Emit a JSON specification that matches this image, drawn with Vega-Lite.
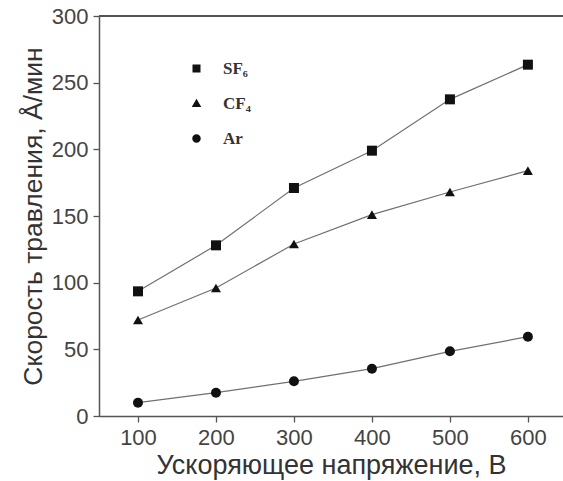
{
  "$schema": "https://vega.github.io/schema/vega-lite/v6.json",
  "width": 464,
  "height": 400,
  "autosize": {"type": "none"},
  "padding": {"left": 99, "top": 16, "right": 0, "bottom": 65},
  "background": "white",
  "config": {
    "view": {"stroke": null, "fill": null},
    "axis": {
      "grid": false,
      "domain": true,
      "ticks": true,
      "domainColor": "#555555",
      "domainWidth": 1.5,
      "tickColor": "#555555",
      "tickWidth": 1.3,
      "labelFont": "Liberation Sans",
      "labelFontSize": 22,
      "labelColor": "#444444",
      "titleFont": "Liberation Sans",
      "titleFontWeight": "normal",
      "titleColor": "#333333",
      "labelFlush": false,
      "labelOverlap": false
    }
  },
  "data": {
    "values": [
      {"V": 100, "gas": "SF6", "rate": 93.5},
      {"V": 200, "gas": "SF6", "rate": 128},
      {"V": 300, "gas": "SF6", "rate": 171},
      {"V": 400, "gas": "SF6", "rate": 199},
      {"V": 500, "gas": "SF6", "rate": 237.5},
      {"V": 600, "gas": "SF6", "rate": 263.5},
      {"V": 100, "gas": "CF4", "rate": 72},
      {"V": 200, "gas": "CF4", "rate": 96},
      {"V": 300, "gas": "CF4", "rate": 129},
      {"V": 400, "gas": "CF4", "rate": 151},
      {"V": 500, "gas": "CF4", "rate": 168},
      {"V": 600, "gas": "CF4", "rate": 184},
      {"V": 100, "gas": "Ar", "rate": 10},
      {"V": 200, "gas": "Ar", "rate": 17.5},
      {"V": 300, "gas": "Ar", "rate": 26},
      {"V": 400, "gas": "Ar", "rate": 35.5},
      {"V": 500, "gas": "Ar", "rate": 48.5},
      {"V": 600, "gas": "Ar", "rate": 59.5}
    ]
  },
  "layer": [
    {
      "mark": {"type": "line", "color": "#707070", "strokeWidth": 1.2},
      "encoding": {
        "x": {
          "field": "V",
          "type": "quantitative",
          "scale": {"domain": [50, 645], "nice": false, "zero": false},
          "axis": {
            "orient": "bottom",
            "title": "Ускоряющее напряжение, В",
            "titleFontSize": 27,
            "values": [100, 200, 300, 400, 500, 600],
            "domain": true,
            "ticks": true,
            "domainColor": "#555555",
            "tickColor": "#555555",
            "tickSize": 6,
            "labelPadding": 5,
            "titlePadding": 4
          }
        },
        "y": {
          "field": "rate",
          "type": "quantitative",
          "scale": {"domain": [0, 300], "nice": false},
          "axis": {
            "orient": "left",
            "title": "Скорость травления, Å/мин",
            "titleFontSize": 26.5,
            "values": [0, 50, 100, 150, 200, 250, 300],
            "domain": true,
            "ticks": true,
            "domainColor": "#555555",
            "tickColor": "#555555",
            "tickSize": 6,
            "labelPadding": 5,
            "titlePadding": 4
          }
        },
        "detail": {"field": "gas"}
      }
    },
    {
      "mark": {"type": "rule", "color": "#555555", "strokeWidth": 1.5},
      "encoding": {
        "y": {"datum": 300, "type": "quantitative"}
      }
    },
    {
      "mark": {"type": "point", "filled": true, "color": "#111111", "opacity": 1, "size": 100},
      "encoding": {
        "x": {"field": "V", "type": "quantitative"},
        "y": {"field": "rate", "type": "quantitative"},
        "shape": {
          "field": "gas",
          "type": "nominal",
          "scale": {"domain": ["SF6", "CF4", "Ar"], "range": ["square", "triangle-up", "circle"]},
          "legend": null
        }
      }
    },
    {
      "mark": {"type": "point", "filled": false, "stroke": "#707070", "fill": "#111111", "strokeWidth": 1.2, "opacity": 0, "size": 100},
      "encoding": {
        "x": {"field": "V", "type": "quantitative"},
        "y": {"field": "rate", "type": "quantitative"},
        "shape": {
          "field": "gas",
          "type": "nominal",
          "scale": {
            "domain": ["SF6", "CF4", "Ar"],
            "range": [
              "M-5,0H-1.1M1.1,0H4.8M-0.8,-0.8H0.8V0.8H-0.8Z",
              "M-5,0H-1.1M1.1,0H4.8M0,-0.95L0.95,0.7L-0.95,0.7Z",
              "M-5,0H-1.1M1.1,0H4.8M-0.85,0A0.85,0.85 0 1,0 0.85,0A0.85,0.85 0 1,0 -0.85,0Z"
            ]
          },
          "legend": {
            "orient": "none",
            "legendX": 89,
            "legendY": 44,
            "title": null,
            "padding": 0,
            "symbolSize": 100,
            "symbolOpacity": 1,
            "symbolFillColor": "#111111",
            "symbolStrokeColor": "#707070",
            "symbolStrokeWidth": 1.2,
            "labelFont": "Liberation Serif",
            "labelFontWeight": "bold",
            "labelFontSize": 17,
            "labelColor": "#333333",
            "labelOffset": 18,
            "rowPadding": 17,
            "labelExpr": "datum.label === 'SF6' ? 'SF₆' : datum.label === 'CF4' ? 'CF₄' : datum.label"
          }
        }
      }
    }
  ],
  "resolve": {"scale": {"shape": "independent"}}
}
